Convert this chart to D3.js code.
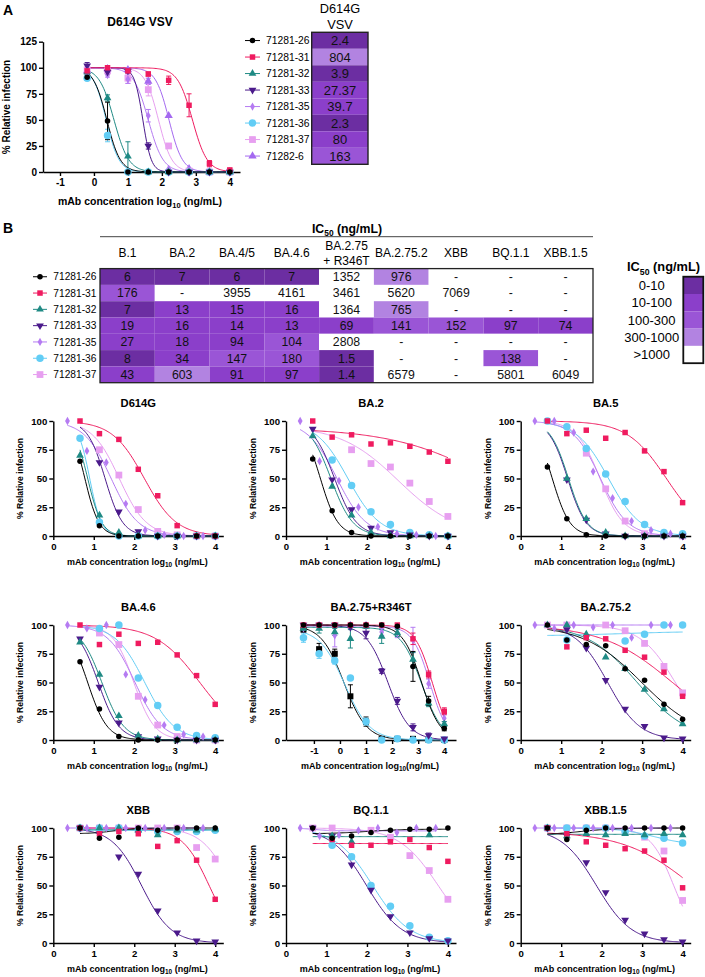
<!DOCTYPE html>
<html><head><meta charset="utf-8">
<script src="https://cdn.jsdelivr.net/npm/d3@7"></script>
<style>body{margin:0;background:#fff}svg{display:block}</style>
</head><body><svg id="c" width="705" height="977"></svg>
<script>
// ================= DATA =================
const mAbs = ["71281-26","71281-31","71281-32","71281-33","71281-35","71281-36","71281-37"];
const legendA = ["71281-26","71281-31","71281-32","71281-33","71281-35","71281-36","71281-37","71282-6"];
const ic50A = ["2.4","804","3.9","27.37","39.7","2.3","80","163"];

// Panel A (D614G VSV): x = log10 ng/mL
const xA = [-0.2,0.4,1.0,1.6,2.2,2.8,3.4,4.0];
const yA = {
  "71281-26":[91,49,0,0,0,0,0,0],
  "71281-31":[97,100,97,94,88,64,8,2],
  "71281-32":[96,71,15,0,0,0,0,0],
  "71281-33":[102,96,97,25,0,0,0,0],
  "71281-35":[95,93,89,54,3,0,1,0],
  "71281-36":[90,35,0,0,0,0,0,0],
  "71281-37":[98,97,90,79,25,1,0,0],
  "71282-6":[97,99,98,87,54,3,0,0]
};
const errA = {
  "71281-26":[2,18,0,0,0,0,0,0],
  "71281-31":[2,2,1,2,4,11,3,0],
  "71281-32":[2,3,14,0,0,0,0,0],
  "71281-33":[3,2,2,3,0,0,0,0],
  "71281-35":[2,2,4,6,0,0,0,0],
  "71281-36":[2,6,0,0,0,0,0,0],
  "71281-37":[2,2,5,6,0,0,0,0],
  "71282-6":[0,0,0,3,0,0,0,0]
};
// fitted curve parameters [top, bottom, logIC50, hill]
const fitA = {
  "71281-26":[100,0,0.38,2.2],
  "71281-31":[100,0,2.9,2.0],
  "71281-32":[100,0,0.59,2.0],
  "71281-33":[100,0,1.44,3.5],
  "71281-35":[100,0,1.6,2.0],
  "71281-36":[100,0,0.36,2.3],
  "71281-37":[100,0,1.9,2.2],
  "71282-6":[100,0,2.21,2.2]
};

// Panel B table
const variants = ["B.1","BA.2","BA.4/5","BA.4.6","BA.2.75|+ R346T","BA.2.75.2","XBB","BQ.1.1","XBB.1.5"];
const ic50B = {
  "71281-26":["6","7","6","7","1352","976","-","-","-"],
  "71281-31":["176","-","3955","4161","3461","5620","7069","-","-"],
  "71281-32":["7","13","15","16","1364","765","-","-","-"],
  "71281-33":["19","16","14","13","69","141","152","97","74"],
  "71281-35":["27","18","94","104","2808","-","-","-","-"],
  "71281-36":["8","34","147","180","1.5","-","-","138","-"],
  "71281-37":["43","603","91","97","1.4","6579","-","5801","6049"]
};
const heatBreaks = [10,100,300,1000];
const heatLabels = ["0-10","10-100","100-300","300-1000",">1000"];

// dilution series (log10 ng/mL)
const xMain = [0.66,1.14,1.62,2.10,2.58,3.06,3.54,4.0];
const xDia  = [0.35,0.83,1.31,1.79,2.27,2.74,3.22,3.70];
const xWide = [-1.4,-0.8,-0.2,0.4,1.0,1.6,2.2,2.8,3.4,4.0];
const xTicksMain = [0,1,2,3,4];
const xTicksWide = [-1,0,1,2,3,4];
const yTicksA = [0,25,50,75,100,125];
const yTicksB = [0,25,50,75,100];

const panelTitles = ["D614G","BA.2","BA.5","BA.4.6","BA.2.75+R346T","BA.2.75.2","XBB","BQ.1.1","XBB.1.5"];

const yD614G = {
  "71281-26":[65,9,0,0,0,0,0,0],
  "71281-31":[100,89,84,58,35,9,0,0],
  "71281-32":[70,18,3,0,0,0,0,0],
  "71281-33":[null,64,21,4,0,0,0,0],
  "71281-35":[100,74,64,28,5,1,0,0],
  "71281-36":[85,12,0,0,0,0,0,0],
  "71281-37":[null,75,53,23,4,1,0,0]
};
const fD614G = {
  "71281-26":[100,0,0.78,2.5],"71281-31":[100,0,2.25,1.1],"71281-32":[100,0,0.85,2.5],
  "71281-33":[100,0,1.28,2.0],"71281-35":[100,0,1.43,1.3],"71281-36":[100,0,0.90,3.0],
  "71281-37":[100,0,1.63,1.3]
};
const yBA2 = {
  "71281-26":[67,22,3,0,0,0,0,0],
  "71281-31":[100,86,88,80,81,78,73,65],
  "71281-32":[87,43,18,3,0,0,0,0],
  "71281-33":[93,49,23,7,3,1,0,0],
  "71281-35":[100,65,48,25,8,2,1,0],
  "71281-36":[null,66,44,21,10,3,1,0],
  "71281-37":[null,null,75,63,60,46,30,17]
};
const fBA2 = {
  "71281-26":[100,0,0.85,2.0],"71281-31":[94,0,5.2,0.35],"71281-32":[100,0,1.11,1.6],
  "71281-33":[100,0,1.2,1.6],"71281-35":[100,0,1.26,1.2],"71281-36":[100,0,1.53,1.1],
  "71281-37":[96,0,2.78,0.6]
};
const yBA5 = {
  "71281-26":[60,15,1,0,0,0,0,0],
  "71281-31":[100,89,92,85,90,74,56,29],
  "71281-32":[null,50,15,3,0,0,0,0],
  "71281-33":[null,49,14,2,0,0,0,0],
  "71281-35":[100,100,90,56,33,13,5,2],
  "71281-36":[100,95,76,54,30,10,3,2],
  "71281-37":[null,null,72,41,13,2,1,0]
};
const fBA5 = {
  "71281-26":[100,0,0.78,2.0],"71281-31":[100,0,3.6,0.9],"71281-32":[100,0,1.18,1.9],
  "71281-33":[100,0,1.16,1.9],"71281-35":[100,0,1.97,1.3],"71281-36":[100,0,2.17,1.1],
  "71281-37":[100,0,1.96,1.5]
};
const yBA46 = {
  "71281-26":[68,27,3,0,0,0,0,0],
  "71281-31":[100,83,92,84,85,74,56,31],
  "71281-32":[85,57,21,4,1,0,0,0],
  "71281-33":[88,46,15,3,1,0,0,0],
  "71281-35":[100,97,100,57,35,13,5,3],
  "71281-36":[null,97,100,54,30,11,4,2],
  "71281-37":[null,93,83,38,13,3,0,0]
};
const fBA46 = {
  "71281-26":[100,0,0.85,1.8],"71281-31":[100,0,3.62,0.8],"71281-32":[100,0,1.2,1.6],
  "71281-33":[100,0,1.11,1.7],"71281-35":[100,0,2.02,1.3],"71281-36":[100,0,2.26,1.2],
  "71281-37":[100,0,1.99,1.7]
};
const yR346T = {
  "71281-26":[100,100,100,100,100,100,99,64,34,10],
  "71281-31":[100,100,100,100,100,100,100,88,57,25],
  "71281-32":[97,97,94,88,99,90,93,70,32,14],
  "71281-33":[100,100,100,98,93,60,34,11,4,1],
  "71281-35":[97,100,91,100,100,94,93,87,49,19],
  "71281-36":[89,75,69,54,16,0,1,0,0,0],
  "71281-37":[96,79,75,38,16,1,1,1,0,0]
};
const eR346T = {
  "71281-26":[0,0,0,0,0,0,0,13,4,2],
  "71281-31":[0,0,0,0,0,0,0,5,3,3],
  "71281-32":[2,4,3,8,2,6,3,6,3,2],
  "71281-33":[0,0,0,0,5,2,3,3,2,0],
  "71281-35":[3,0,10,0,0,3,4,11,4,3],
  "71281-36":[4,4,3,0,3,0,0,0,0,0],
  "71281-37":[2,5,4,10,4,0,0,0,0,0]
};
const fR346T = {
  "71281-26":[100,0,3.13,1.2],"71281-31":[100,0,3.54,1.3],"71281-32":[98,0,3.13,1.1],
  "71281-33":[100,0,1.84,1.05],"71281-35":[99,0,3.45,1.3],"71281-36":[97,0,0.18,0.9],
  "71281-37":[100,0,0.15,1.0]
};
const yBA752 = {
  "71281-26":[100,87,83,82,62,52,31,18],
  "71281-31":[null,81,89,88,78,72,59,38],
  "71281-32":[100,100,92,72,62,44,27,14],
  "71281-33":[null,96,80,52,27,12,2,1],
  "71281-35":[100,97,100,98,100,89,100,100],
  "71281-36":[null,87,null,null,86,92,100,100],
  "71281-37":[100,100,null,100,95,84,64,41]
};
const fBA752 = {
  "71281-26":[100,0,2.99,0.6],"71281-31":[100,0,3.75,0.5],"71281-32":[100,0,2.88,0.7],
  "71281-33":[100,0,2.15,1.1],"71281-35":[100,100,2,1],"71281-36":[90.5,94.5,2.5,0.5],
  "71281-37":[100,0,3.82,1.0]
};
const yXBB = {
  "71281-26":[100,91,92,100,98,100,100,100],
  "71281-31":[100,95,97,95,84,89,72,38],
  "71281-32":[100,100,100,98,94,98,98,99],
  "71281-33":[100,95,75,60,28,9,2,1],
  "71281-35":[100,100,100,100,100,100,100,100],
  "71281-36":[100,100,100,98,97,97,97,98],
  "71281-37":[100,100,100,100,100,100,83,73]
};
const fXBB = {
  "71281-26":[95,100,1.5,1.5],"71281-31":[100,0,3.85,1.3],"71281-32":[98.5,98.5,2,1],
  "71281-33":[100,0,2.18,1.2],"71281-35":[100,100,2,1],"71281-36":[98,98,2,1],
  "71281-37":[100,0,4.4,1.2]
};
const yBQ11 = {
  "71281-26":[100,91,93,96,98,99,99,100],
  "71281-31":[null,90,85,85,88,90,83,71],
  "71281-32":[null,93,88,null,null,null,94,null],
  "71281-33":[100,93,68,46,23,9,4,2],
  "71281-35":[100,93,94,98,100,96,100,100],
  "71281-36":[null,85,75,50,32,15,5,2],
  "71281-37":[100,100,null,98,92,76,63,38]
};
const fBQ11 = {
  "71281-26":[95,99,2.0,1.0],"71281-31":[86.5,86.5,2,1],"71281-32":[92.5,92.5,2,1],
  "71281-33":[100,0,1.99,1.0],"71281-35":[100,97.5,0.7,2.0],"71281-36":[100,0,2.14,0.95],
  "71281-37":[100,0,3.76,0.9]
};
const yXBB15 = {
  "71281-26":[100,90,98,100,100,100,100,100],
  "71281-31":[100,95,88,85,82,80,72,48],
  "71281-32":[100,93,95,94,95,94,95,94],
  "71281-33":[100,93,70,44,20,8,3,1],
  "71281-35":[100,100,100,100,100,100,100,100],
  "71281-36":[100,100,100,100,97,93,91,87],
  "71281-37":[100,100,100,100,98,92,80,37]
};
const fXBB15 = {
  "71281-26":[94,100,1.5,1.0],"71281-31":[97,0,4.3,0.5],"71281-32":[94.5,94.5,2,1],
  "71281-33":[100,0,1.87,1.0],"71281-35":[100,100,2,1],"71281-36":[100,85,3.3,1.0],
  "71281-37":[100,0,3.78,1.5]
};

// ================= STYLE =================
const FONT = '"Liberation Sans", Arial, Helvetica, sans-serif';
const heat = ["#6c2ea2","#8b3fca","#9a55d6","#b283e1","#ffffff"];
const style = {
  "71281-26":{color:"#000000", shape:d3.symbolCircle,   size:24},
  "71281-31":{color:"#ef1b5f", shape:d3.symbolSquare,   size:30},
  "71281-32":{color:"#1f8a84", shape:d3.symbolTriangle, size:26},
  "71281-33":{color:"#4b1a8b", shape:d3.symbolTriangle, size:26, down:true},
  "71281-35":{color:"#b57bf2", shape:d3.symbolDiamond,  size:20},
  "71281-36":{color:"#62cdf5", shape:d3.symbolCircle,   size:44},
  "71281-37":{color:"#e79ff0", shape:d3.symbolSquare,   size:46},
  "71282-6": {color:"#a469f0", shape:d3.symbolTriangle, size:30}
};
const drawOrder = ["71281-37","71281-36","71281-35","71281-33","71281-32","71281-31","71281-26"];

const svg = d3.select("#c").attr("font-family", FONT);
const intFmt = d => String(d);

function fourPL(p, x){ const [top,bottom,c,h]=p; return bottom + (top-bottom)/(1+Math.pow(10,(x-c)*h)); }

function marker(g, st, cx, cy){
  g.append("path").attr("d", d3.symbol(st.shape, st.size)())
    .attr("transform", `translate(${cx},${cy})` + (st.down ? " rotate(180)" : ""))
    .attr("fill", st.color);
}
function styleAxis(g, fs){
  g.attr("font-family", FONT);
  g.select(".domain").attr("stroke","#000").attr("stroke-width",1.4);
  g.selectAll(".tick line").attr("stroke","#000").attr("stroke-width",1.4);
  g.selectAll(".tick text").attr("font-size",fs).attr("font-weight","bold").attr("fill","#000");
}
function xLabel(g, x, y, fs, noSpace){
  const t = g.append("text").attr("x",x).attr("y",y).attr("text-anchor","middle")
    .attr("font-size",fs).attr("font-weight","bold");
  t.append("tspan").text("mAb concentration log");
  t.append("tspan").attr("font-size",fs*0.72).attr("dy",fs*0.25).text("10");
  t.append("tspan").attr("dy",-fs*0.25).text(noSpace ? "(ng/mL)" : " (ng/mL)");
}
function yLabel(g, x, y, fs){
  g.append("text").attr("transform",`translate(${x},${y}) rotate(-90)`)
    .attr("text-anchor","middle").attr("font-size",fs).attr("font-weight","bold")
    .text("% Relative infection");
}

function drawSeries(g, xs, ys, errs, fit, st, xS, yS){
  if (fit){
    const lo = d3.min(xs), hi = d3.max(xs);
    const pts = d3.range(0,121).map(i => lo + (hi-lo)*i/120);
    g.append("path").attr("fill","none").attr("stroke",st.color).attr("stroke-width",1)
      .attr("d", d3.line().x(d=>xS(d)).y(d=>yS(fourPL(fit,d)))(pts));
  }
  xs.forEach((xv,i)=>{
    const yv = ys[i]; if (yv==null) return;
    const e = errs ? errs[i] : 0;
    if (e){
      const cx = xS(xv);
      g.append("path").attr("fill","none").attr("stroke",st.color).attr("stroke-width",1)
        .attr("d",`M${cx},${yS(yv-e)}V${yS(yv+e)}M${cx-2.5},${yS(yv-e)}H${cx+2.5}M${cx-2.5},${yS(yv+e)}H${cx+2.5}`);
    }
  });
}
function drawPoints(g, xs, ys, st, xS, yS){
  xs.forEach((xv,i)=>{ const yv=ys[i]; if (yv==null) return; marker(g, st, xS(xv), yS(yv)); });
}

// ================= PANEL A =================
const gA = svg.append("g");
gA.append("text").attr("x",3).attr("y",15).attr("font-size",14).attr("font-weight","bold").text("A");
const xSA = d3.scaleLinear().domain([-1.5,4.3]).range([43,240]);
const ySA = d3.scaleLinear().domain([0,125]).range([172,41.7]);
gA.append("text").attr("x",140).attr("y",26).attr("text-anchor","middle").attr("font-size",12).attr("font-weight","bold").text("D614G VSV");
const axYA = gA.append("g").attr("transform","translate(43,0)").call(d3.axisLeft(ySA).tickValues(yTicksA).tickFormat(intFmt).tickSize(4).tickSizeOuter(0).tickPadding(2));
styleAxis(axYA,10);
const axXA = gA.append("g").attr("transform","translate(0,172)").call(d3.axisBottom(xSA).tickValues(xTicksWide).tickFormat(intFmt).tickSize(4).tickSizeOuter(0).tickPadding(3));
styleAxis(axXA,10);
yLabel(gA, 10, 107, 10);
xLabel(gA, 140, 205, 10.5);
const orderA = ["71282-6","71281-37","71281-36","71281-35","71281-33","71281-32","71281-31","71281-26"];
orderA.forEach(m => drawSeries(gA, xA, yA[m], errA[m], fitA[m], style[m], xSA, ySA));
orderA.forEach(m => drawPoints(gA, xA, yA[m], style[m], xSA, ySA));

// legend A + table A
const rowHA = 16.5, topA = 32.3;
legendA.forEach((m,i)=>{
  const cy = topA + rowHA*(i+0.5);
  gA.append("line").attr("x1",245).attr("x2",260).attr("y1",cy).attr("y2",cy).attr("stroke",style[m].color).attr("stroke-width",1);
  marker(gA, style[m], 252.5, cy);
  gA.append("text").attr("x",266).attr("y",cy+3.6).attr("font-size",10.3).text(m);
});
const heatScale = d3.scaleThreshold().domain(heatBreaks).range(heat.slice(0,4));
function heatColor(s){ const v = parseFloat(s); return isNaN(v) || v>=1000 ? heat[4] : heatScale(v); }
gA.append("text").attr("x",340).attr("y",13).attr("text-anchor","middle").attr("font-size",12.8).text("D614G");
gA.append("text").attr("x",340).attr("y",28.5).attr("text-anchor","middle").attr("font-size",12.8).text("VSV");
ic50A.forEach((v,i)=>{
  const y0 = topA + rowHA*i;
  gA.append("rect").attr("x",311.7).attr("y",y0).attr("width",56.3).attr("height",rowHA).attr("fill",heatColor(v));
  gA.append("text").attr("x",340).attr("y",y0+rowHA/2+4.6).attr("text-anchor","middle").attr("font-size",13).attr("fill","#111").text(v);
});
gA.append("rect").attr("x",311.7).attr("y",topA).attr("width",56.3).attr("height",rowHA*8).attr("fill","none").attr("stroke","#222").attr("stroke-width",1.4);

// ================= PANEL B TABLE =================
const gB = svg.append("g");
gB.append("text").attr("x",3).attr("y",233).attr("font-size",14).attr("font-weight","bold").text("B");
const tLeft = 100, tRight = 593, colW = (tRight-tLeft)/variants.length;
const bodyTop = 268.6, rowHB = 16.3;
function ic50Title(g, x, y, fs){
  const t = g.append("text").attr("x",x).attr("y",y).attr("text-anchor","middle").attr("font-size",fs).attr("font-weight","bold");
  t.append("tspan").text("IC");
  t.append("tspan").attr("font-size",fs*0.68).attr("dy",fs*0.3).text("50");
  t.append("tspan").attr("dy",-fs*0.3).text(" (ng/mL)");
}
ic50Title(gB, 347, 232.5, 12.3);
gB.append("line").attr("x1",tLeft).attr("x2",tRight).attr("y1",236.7).attr("y2",236.7).attr("stroke","#444").attr("stroke-width",1);
variants.forEach((v,j)=>{
  const cx = tLeft + colW*(j+0.5);
  const parts = v.split("|");
  if (parts.length===1){
    gB.append("text").attr("x",cx).attr("y",257.3).attr("text-anchor","middle").attr("font-size",12).text(v);
  } else {
    gB.append("text").attr("x",cx).attr("y",249.5).attr("text-anchor","middle").attr("font-size",12).text(parts[0]);
    gB.append("text").attr("x",cx).attr("y",264.5).attr("text-anchor","middle").attr("font-size",12).text(parts[1]);
  }
});
mAbs.forEach((m,i)=>{
  const y0 = bodyTop + rowHB*i, cy = y0 + rowHB/2;
  gB.append("line").attr("x1",33).attr("x2",47).attr("y1",cy).attr("y2",cy).attr("stroke",style[m].color).attr("stroke-width",1);
  marker(gB, style[m], 40, cy);
  gB.append("text").attr("x",53.3).attr("y",cy+3.6).attr("font-size",10.2).text(m);
  ic50B[m].forEach((v,j)=>{
    const x0 = tLeft + colW*j;
    gB.append("rect").attr("x",x0).attr("y",y0).attr("width",colW).attr("height",rowHB).attr("fill",heatColor(v));
    gB.append("text").attr("x",x0+colW/2).attr("y",cy+4.4).attr("text-anchor","middle").attr("font-size",12.3).attr("fill","#111").text(v);
  });
});
gB.append("rect").attr("x",tLeft).attr("y",bodyTop).attr("width",tRight-tLeft).attr("height",rowHB*7).attr("fill","none").attr("stroke","#222").attr("stroke-width",1.3);

// legend B
ic50Title(gB, 663.5, 271, 12.8);
const lgTop = 276.7, lgH = 17.3;
heatLabels.forEach((l,i)=>{
  gB.append("rect").attr("x",683.3).attr("y",lgTop+lgH*i).attr("width",20).attr("height",lgH).attr("fill",heat[i]);
  gB.append("text").attr("x",651.7).attr("y",lgTop+lgH*i+lgH/2+4.6).attr("text-anchor","middle").attr("font-size",13).text(l);
});
gB.append("rect").attr("x",683.3).attr("y",lgTop).attr("width",20).attr("height",lgH*5).attr("fill","none").attr("stroke","#111").attr("stroke-width",1.8);

// ================= SMALL CHARTS =================
const panelData = [
  {y:yD614G, f:fD614G}, {y:yBA2, f:fBA2}, {y:yBA5, f:fBA5},
  {y:yBA46, f:fBA46}, {y:yR346T, f:fR346T, e:eR346T, wide:true}, {y:yBA752, f:fBA752},
  {y:yXBB, f:fXBB}, {y:yBQ11, f:fBQ11}, {y:yXBB15, f:fXBB15}
];
const colX = [53.3, 286, 520.7];
const rowY0 = [536, 740, 943];
const plotW = 170, plotH = 115;

panelData.forEach((p,i)=>{
  const c = i%3, r = Math.floor(i/3);
  const x0 = colX[c], y0 = rowY0[r];
  const g = svg.append("g");
  const xS = d3.scaleLinear().domain(p.wide ? [-2.07,4.45] : [0,4.2]).range([x0, x0+plotW]);
  const yS = d3.scaleLinear().domain([0,100]).range([y0, y0-plotH]);
  g.append("text").attr("x",x0+85).attr("y",y0-plotH-14).attr("text-anchor","middle")
    .attr("font-size",11.2).attr("font-weight","bold").text(panelTitles[i]);
  const ay = g.append("g").attr("transform",`translate(${x0},0)`).call(d3.axisLeft(yS).tickValues(yTicksB).tickFormat(intFmt).tickSize(4).tickSizeOuter(0).tickPadding(2));
  styleAxis(ay,9.6);
  const ax = g.append("g").attr("transform",`translate(0,${y0})`).call(d3.axisBottom(xS).tickValues(p.wide?xTicksWide:xTicksMain).tickFormat(intFmt).tickSize(4).tickSizeOuter(0).tickPadding(3));
  styleAxis(ax,9.6);
  yLabel(g, x0-30, y0-plotH/2, 8.6);
  xLabel(g, x0+84, y0+28.5, 9, p.wide);
  const xsFor = m => p.wide ? xWide : (m==="71281-35" ? xDia : xMain);
  const stFor = m => (p.wide && m==="71281-37") ? {color:"#000000", shape:d3.symbolSquare, size:36} : style[m];
  drawOrder.forEach(m => drawSeries(g, xsFor(m), p.y[m], p.e ? p.e[m] : null, p.f[m], stFor(m), xS, yS));
  drawOrder.forEach(m => drawPoints(g, xsFor(m), p.y[m], stFor(m), xS, yS));
});
</script></body></html>
